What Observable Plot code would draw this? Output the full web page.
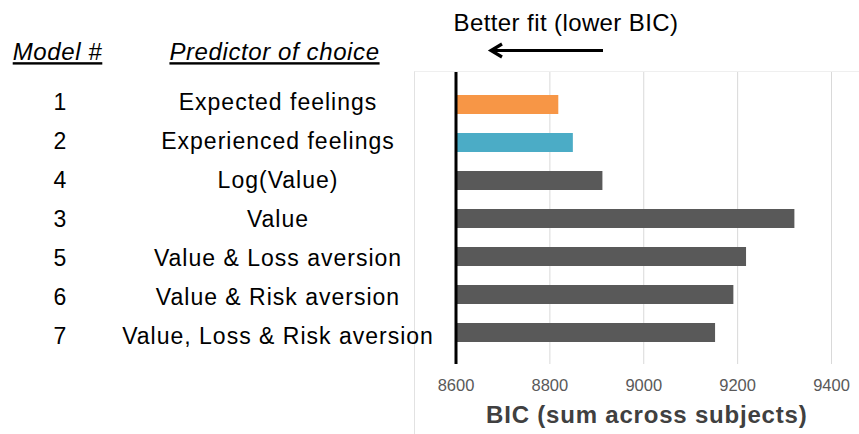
<!DOCTYPE html>
<html>
<head>
<meta charset="utf-8">
<script src="https://cdn.jsdelivr.net/npm/d3@7"></script>
<script src="https://cdn.jsdelivr.net/npm/@observablehq/plot@0.6"></script>
<style>
  body { margin: 0; background: #fff; }
  #chart { position: relative; width: 859px; height: 434px; font-family: "Liberation Sans", Arial, sans-serif; }
  #chart > * { position: absolute; left: 0; top: 0; }
  #area { left: 414px; top: 71px; width: 445px; height: 363px; border-left: 1px solid #e2e2e2; border-top: 1px solid #efefef; box-sizing: border-box; }
</style>
</head>
<body>
<div id="chart">
  <div id="area"></div>
</div>
<script>
// ---- data ----
const modelNums = ["1", "2", "4", "3", "5", "6", "7"];
const predictors = [
  "Expected feelings",
  "Experienced feelings",
  "Log(Value)",
  "Value",
  "Value & Loss aversion",
  "Value & Risk aversion",
  "Value, Loss & Risk aversion"
];
const bicValues = [8819, 8850, 8913, 9322, 9219, 9192, 9153];
const barColors = ["#F79646", "#4BACC6", "#595959", "#595959", "#595959", "#595959", "#595959"];
const xTicks = [8600, 8800, 9000, 9200, 9400];
const baselineBIC = 8600;
const headers = ["Model #", "Predictor of choice"];
const xLabel = "BIC (sum across subjects)";
const annotation = "Better fit (lower BIC)";

const rows = predictors.map((p, i) => ({ num: modelNums[i], predictor: p, bic: bicValues[i], color: barColors[i] }));
const font = '"Liberation Sans", Arial, sans-serif';

// ---- bar chart ----
const bars = Plot.plot({
  width: 859,
  height: 434,
  marginTop: 72,
  marginBottom: 70,
  marginLeft: 455.5,
  marginRight: 28,
  style: { background: "transparent", fontFamily: font, overflow: "visible" },
  x: { domain: [8600, 9400] },
  y: { type: "band", domain: predictors, padding: 0.5, axis: null },
  color: { type: "identity" },
  marks: [
    Plot.gridX(xTicks, { stroke: "#d9d9d9", strokeOpacity: 1 }),
    Plot.barX(rows, { x1: baselineBIC, x2: "bic", y: "predictor", fill: "color" }),
    Plot.ruleX([baselineBIC], { stroke: "#000", strokeWidth: 3 }),
    Plot.axisX(xTicks, { tickSize: 0, tickPadding: 15, fontSize: 16.5, fill: "#595959", label: null, tickFormat: d => String(d) }),
    Plot.text([xLabel], { frameAnchor: "bottom", lineAnchor: "top", dy: 41, dx: 3, fontSize: 24, fontWeight: "bold", fill: "#404040" }),
    Plot.text([annotation], { frameAnchor: "top-left", lineAnchor: "top", textAnchor: "middle", dx: 110, dy: -59, fontSize: 24, fill: "#000" })
  ]
});
d3.select(bars).selectAll("text").filter(function () { return this.textContent === xLabel; }).attr("letter-spacing", "0.8");
d3.select(bars).selectAll("text").filter(function () { return this.textContent === annotation; }).attr("letter-spacing", "0.4");

// ---- left table ----
const table = Plot.plot({
  width: 859,
  height: 434,
  marginTop: 80,
  marginBottom: 75.6,
  marginLeft: 0,
  marginRight: 0,
  style: { background: "transparent", fontFamily: font, overflow: "visible" },
  y: { type: "band", domain: predictors, padding: 0, axis: null },
  marks: [
    Plot.text(rows, { y: "predictor", text: "num", frameAnchor: "left", dx: 60, textAnchor: "middle", fontSize: 23, fill: "#000" }),
    Plot.text(rows, { y: "predictor", text: "predictor", frameAnchor: "left", dx: 277.5, textAnchor: "middle", fontSize: 23, fill: "#000" }),
    Plot.text([headers[0]], { frameAnchor: "top-left", lineAnchor: "middle", dx: 57, dy: -28, textAnchor: "middle", fontSize: 24, fontStyle: "italic", fill: "#000" }),
    Plot.text([headers[1]], { frameAnchor: "top-left", lineAnchor: "middle", dx: 274, dy: -28, textAnchor: "middle", fontSize: 24, fontStyle: "italic", fill: "#000" })
  ]
});
d3.select(table).selectAll("text").attr("letter-spacing", "1");
d3.select(table).selectAll("text").filter(function () { return headers.includes(this.textContent); })
  .attr("letter-spacing", "0.6")
  .style("text-decoration", "underline");

// ---- arrow annotation (decoration) ----
const arrow = d3.create("svg").attr("width", 859).attr("height", 434).style("overflow", "visible");
arrow.append("line").attr("x1", 603).attr("y1", 50.5).attr("x2", 491).attr("y2", 50.5)
  .attr("stroke", "#000").attr("stroke-width", 3.2);
arrow.append("polyline").attr("points", "502,44 491,50.5 502,57")
  .attr("fill", "none").attr("stroke", "#000").attr("stroke-width", 3.2).attr("stroke-linejoin", "miter");

const chart = document.getElementById("chart");
chart.appendChild(bars);
chart.appendChild(table);
chart.appendChild(arrow.node());
</script>
</body>
</html>
